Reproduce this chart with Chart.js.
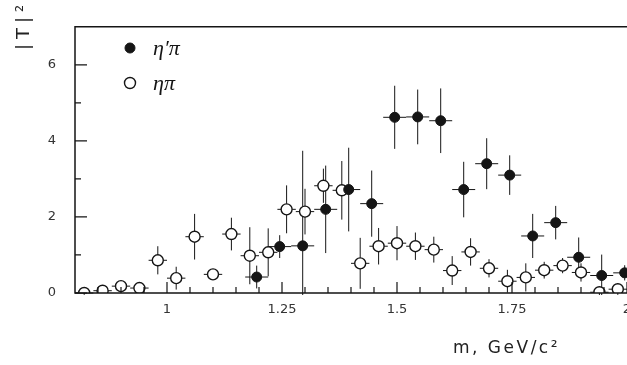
<!DOCTYPE html>
<html>
<head>
<meta charset="utf-8">
<script src="https://cdn.jsdelivr.net/npm/chart.js@4"></script>
<style>
html,body{margin:0;padding:0;background:#fff;overflow:hidden;}
#wrap{position:relative;width:680px;height:365px;}
</style>
</head>
<body>
<div id="wrap"><canvas id="chart"></canvas></div>
<script>
// eta pi (open circles), 0.04 GeV bins
const etaPiMass = [0.82,0.86,0.90,0.94,0.98,1.02,1.06,1.10,1.14,1.18,1.22,1.26,1.30,1.34,1.38,1.42,1.46,1.50,1.54,1.58,1.62,1.66,1.70,1.74,1.78,1.82,1.86,1.90,1.94,1.98];
const etaPiT2 = [0.00,0.06,0.18,0.13,0.86,0.39,1.48,0.49,1.55,0.98,1.07,2.20,2.14,2.82,2.70,0.78,1.23,1.31,1.23,1.14,0.59,1.08,0.65,0.31,0.41,0.60,0.72,0.54,0.02,0.10];
const etaPiErr = [0.05,0.05,0.10,0.08,0.37,0.30,0.60,0.08,0.43,0.75,0.63,0.63,0.60,0.45,0.77,0.67,0.48,0.45,0.36,0.34,0.38,0.36,0.24,0.30,0.37,0.22,0.20,0.24,0.15,0.15];
const etaPiBinHalf = 0.02;

// eta' pi (filled circles), 0.05 GeV bins
const etaPrimePiMass = [1.195,1.245,1.295,1.345,1.395,1.445,1.495,1.545,1.595,1.645,1.695,1.745,1.795,1.845,1.895,1.945,1.995];
const etaPrimePiT2 = [0.42,1.22,1.24,2.20,2.72,2.35,4.62,4.63,4.53,2.72,3.40,3.10,1.50,1.85,0.94,0.46,0.53];
const etaPrimePiErr = [0.30,0.30,2.50,1.15,1.10,0.87,0.83,0.72,0.85,0.73,0.67,0.52,0.58,0.44,0.52,0.55,0.20];
const etaPrimePiBinHalf = 0.025;

const xTickLabels = [1, 1.25, 1.5, 1.75, 2];
const xMinorTicks = [0.85,0.9,0.95,1.05,1.1,1.15,1.2,1.3,1.35,1.4,1.45,1.55,1.6,1.65,1.7,1.8,1.85,1.9,1.95];
const yTickLabels = [0, 2, 4, 6];
const yMinorTicks = [1, 3, 5];

const ink = '#151515';
Chart.defaults.font.family = '"DejaVu Sans", sans-serif';

function points(mass, t2, err, half) {
  return mass.map((m, i) => ({x: m, y: t2[i], err: err[i], half: half}));
}

const decor = {
  id: 'decor',
  beforeDatasetsDraw(chart) {
    const {ctx, chartArea: a, scales: {x, y}} = chart;
    ctx.save();
    ctx.beginPath();
    ctx.rect(a.left, a.top, a.right - a.left, a.bottom - a.top + 2);
    ctx.clip();
    ctx.strokeStyle = ink;
    ctx.lineWidth = 1;
    chart.data.datasets.forEach(ds => {
      ds.data.forEach(p => {
        const px = x.getPixelForValue(p.x), py = y.getPixelForValue(p.y);
        ctx.beginPath();
        ctx.moveTo(px, y.getPixelForValue(p.y + p.err));
        ctx.lineTo(px, y.getPixelForValue(p.y - p.err));
        ctx.moveTo(x.getPixelForValue(p.x - p.half), py);
        ctx.lineTo(x.getPixelForValue(p.x + p.half), py);
        ctx.stroke();
      });
    });
    ctx.restore();
  },
  afterDraw(chart) {
    const {ctx, chartArea: a, scales: {x, y}} = chart;
    ctx.save();
    // frame
    ctx.strokeStyle = ink;
    ctx.lineWidth = 1.5;
    ctx.beginPath();
    ctx.moveTo(a.right, a.top); ctx.lineTo(a.left, a.top);
    ctx.lineTo(a.left, a.bottom); ctx.lineTo(a.right, a.bottom);
    ctx.stroke();
    // inward tick marks
    ctx.lineWidth = 1.2;
    ctx.beginPath();
    xTickLabels.forEach(v => { const p = x.getPixelForValue(v); ctx.moveTo(p, a.bottom); ctx.lineTo(p, a.bottom - 11); });
    xMinorTicks.forEach(v => { const p = x.getPixelForValue(v); ctx.moveTo(p, a.bottom); ctx.lineTo(p, a.bottom - 6); });
    yTickLabels.forEach(v => { const p = y.getPixelForValue(v); ctx.moveTo(a.left, p); ctx.lineTo(a.left + 12, p); });
    yMinorTicks.forEach(v => { const p = y.getPixelForValue(v); ctx.moveTo(a.left, p); ctx.lineTo(a.left + 6, p); });
    ctx.stroke();

    // axis titles
    ctx.fillStyle = '#222';
    ctx.font = '17px "DejaVu Sans"';
    ctx.letterSpacing = '2.5px';
    ctx.textAlign = 'left';
    ctx.textBaseline = 'alphabetic';
    ctx.fillText('m, GeV/c\u00b2', 453, 353);

    ctx.save();
    ctx.translate(29, 50);
    ctx.rotate(-Math.PI / 2);
    ctx.font = '18px "DejaVu Sans"';
    ctx.letterSpacing = '5px';
    ctx.fillText('|T|\u00b2', 0, 0);
    ctx.restore();

    // legend
    ctx.letterSpacing = '0px';
    chart.data.datasets.forEach((ds, i) => {
      const cy = 48 + 35 * i;
      ctx.beginPath();
      ctx.arc(130, cy, ds.pointRadius, 0, Math.PI * 2);
      ctx.fillStyle = ds.backgroundColor;
      ctx.fill();
      ctx.lineWidth = ds.borderWidth;
      ctx.strokeStyle = ds.borderColor;
      ctx.stroke();
      ctx.fillStyle = ink;
      ctx.font = 'italic 22px "Liberation Serif"';
      ctx.fillText(ds.label, 153, cy + 7);
    });
    ctx.restore();
  }
};

new Chart(document.getElementById('chart'), {
  type: 'scatter',
  data: {
    datasets: [
      {
        label: '\u03b7\u2032\u03c0',
        data: points(etaPrimePiMass, etaPrimePiT2, etaPrimePiErr, etaPrimePiBinHalf),
        backgroundColor: ink, borderColor: ink, borderWidth: 1,
        pointRadius: 5, pointHoverRadius: 5
      },
      {
        label: '\u03b7\u03c0',
        data: points(etaPiMass, etaPiT2, etaPiErr, etaPiBinHalf),
        backgroundColor: '#ffffff', borderColor: ink, borderWidth: 1.4,
        pointRadius: 5.5, pointHoverRadius: 5.5
      }
    ]
  },
  options: {
    responsive: true,
    maintainAspectRatio: false,
    animation: false,
    layout: {padding: {top: 5, right: 53, left: 0, bottom: 0}},
    plugins: {legend: {display: false}, tooltip: {enabled: false}},
    scales: {
      x: {
        type: 'linear', min: 0.8, max: 2.0,
        grid: {display: false, drawTicks: false},
        border: {display: false},
        afterBuildTicks: s => { s.ticks = xTickLabels.map(v => ({value: v})); },
        afterFit: s => { s.height = 72; },
        ticks: {color: '#333', font: {size: 13}, padding: 9, maxRotation: 0, autoSkip: false,
          callback: v => String(v)}
      },
      y: {
        type: 'linear', min: 0, max: 7,
        grid: {display: false, drawTicks: false},
        border: {display: false},
        afterBuildTicks: s => { s.ticks = yTickLabels.map(v => ({value: v})); },
        afterFit: s => { s.width = 75; },
        ticks: {color: '#333', font: {size: 13}, padding: 19, callback: v => String(v)}
      }
    }
  },
  plugins: [decor]
});
</script>
</body>
</html>
